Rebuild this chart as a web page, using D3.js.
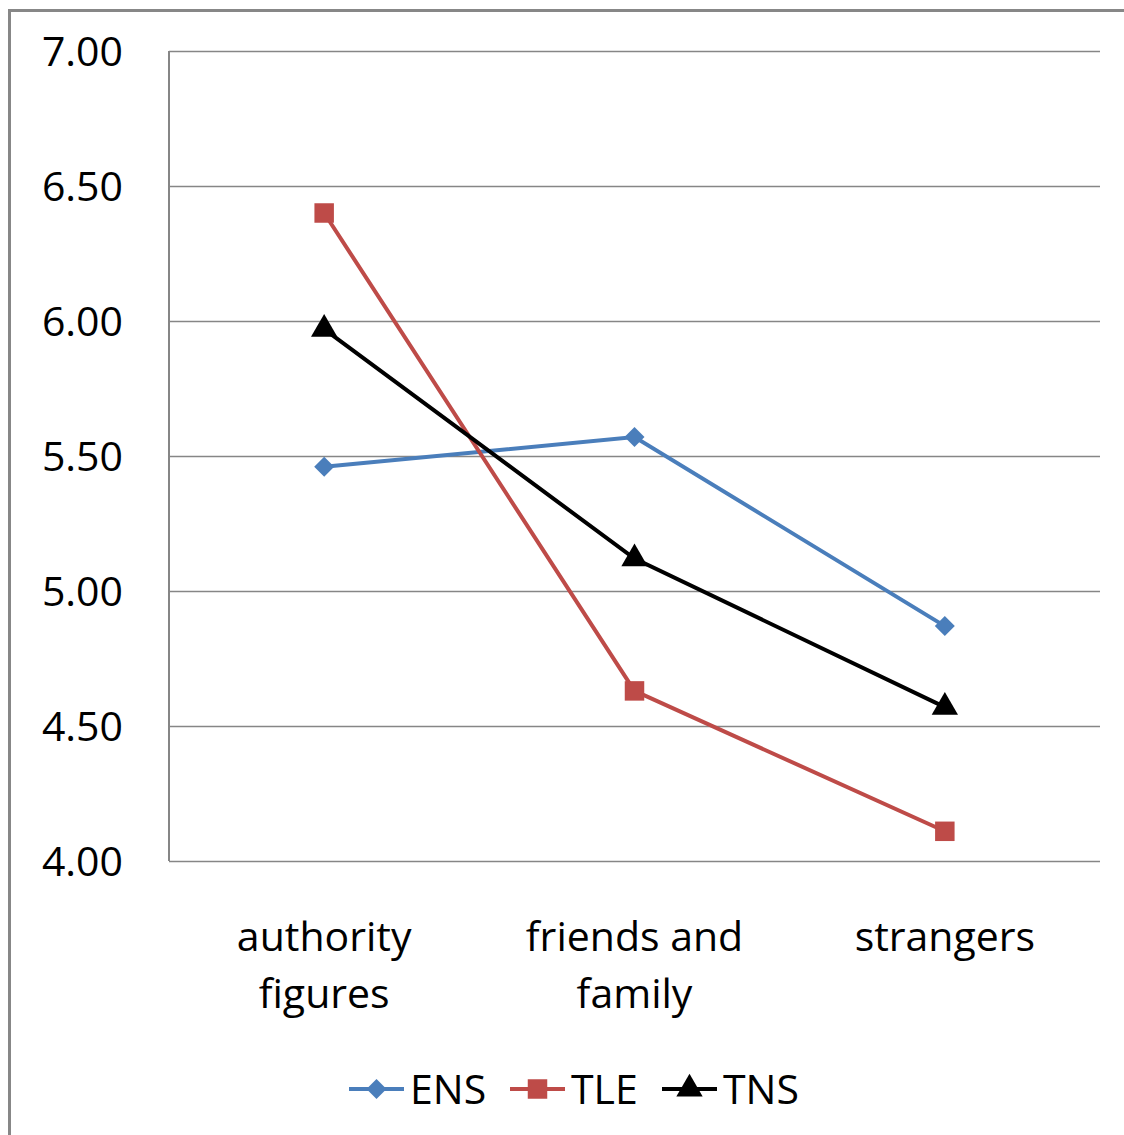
<!DOCTYPE html>
<html><head><meta charset="utf-8">
<script src="https://cdn.jsdelivr.net/npm/d3@7"></script>
<style>body{margin:0;background:#fff}svg{display:block}text{font-family:"Open Sans",Lato,sans-serif}</style>
</head><body>
<svg id="c" width="1124" height="1135"></svg>
<script>
const categories = [["authority","figures"],["friends and","family"],["strangers"]];
const seriesNames = ["ENS","TLE","TNS"];
const ENS = [5.46, 5.57, 4.87];
const TLE = [6.40, 4.63, 4.11];
const TNS = [5.97, 5.12, 4.57];
const yTicks = [4.0, 4.5, 5.0, 5.5, 6.0, 6.5, 7.0];
const colors = ["#4a7ebb", "#be4b48", "#000000"];
const series = [ENS, TLE, TNS];

const diamond = d3.symbol().type(d3.symbolSquare).size(200);
const square = d3.symbol().type(d3.symbolSquare).size(380);
const tri = d3.symbol().type(d3.symbolTriangle).size(300);
const markers = [diamond, square, tri];
const rot = [45, 0, 0];

const svg = d3.select("#c");
const L = 169, R = 1100, T = 51, B = 861;
const FS = 41;
const x = d3.scaleBand().domain(d3.range(categories.length)).range([L, R]);
const y = d3.scaleLinear().domain([4, 7]).range([B, T]);

// outer border (partial)
svg.append("path").attr("d", "M9.5,1135 V10.5 H1124").attr("fill","none").attr("stroke","#878787").attr("stroke-width",3);

// gridlines
const yAxis = d3.axisLeft(y).tickValues(yTicks).tickSize(-(R - L)).tickFormat(d3.format(".2f"));
const ga = svg.append("g").attr("transform", `translate(${L},0)`).call(yAxis);
ga.select(".domain").remove();
ga.selectAll(".tick line").attr("stroke", "#868686").attr("stroke-width", 1.5);
ga.selectAll(".tick text").attr("x", -46).attr("font-size", FS).attr("fill", "#000").attr("dy", "0.36em");
svg.append("line").attr("x1", L).attr("x2", L).attr("y1", T).attr("y2", B).attr("stroke", "#868686").attr("stroke-width", 2);

// category labels
const xAxis = d3.axisBottom(x).tickSize(0).tickFormat("");
const gx = svg.append("g").attr("transform", `translate(0,${B})`).call(xAxis);
gx.select(".domain").remove();
gx.selectAll(".tick").each(function(i){
  const t = d3.select(this).append("text").attr("text-anchor","middle").attr("font-size",FS).attr("fill","#000");
  categories[i].forEach((s, k) => t.append("tspan").attr("x", 0).attr("y", 90 + k * 57).text(s));
});

// series
const line = d3.line().x((d, i) => x(i) + x.bandwidth()/2).y(d => y(d));
series.forEach((s, si) => {
  svg.append("path").attr("d", line(s)).attr("fill","none").attr("stroke", colors[si]).attr("stroke-width", 4);
  svg.selectAll(null).data(s).enter().append("path")
    .attr("d", markers[si])
    .attr("transform", (d, i) => `translate(${x(i) + x.bandwidth()/2},${y(d)}) rotate(${rot[si]})`)
    .attr("fill", colors[si]);
});

// legend
const legX = [349, 510, 662];
const lg = svg.append("g").attr("transform", "translate(0,1089)");
seriesNames.forEach((n, i) => {
  const g = lg.append("g").attr("transform", `translate(${legX[i]},0)`);
  g.append("line").attr("x1",0).attr("x2",55).attr("stroke",colors[i]).attr("stroke-width",4);
  g.append("path").attr("d", markers[i]).attr("transform",`translate(27.5,0) rotate(${rot[i]})`).attr("fill",colors[i]);
  g.append("text").attr("x", 61).attr("dy","0.36em").attr("font-size",FS).attr("fill","#000").text(n);
});
</script>
</body></html>
